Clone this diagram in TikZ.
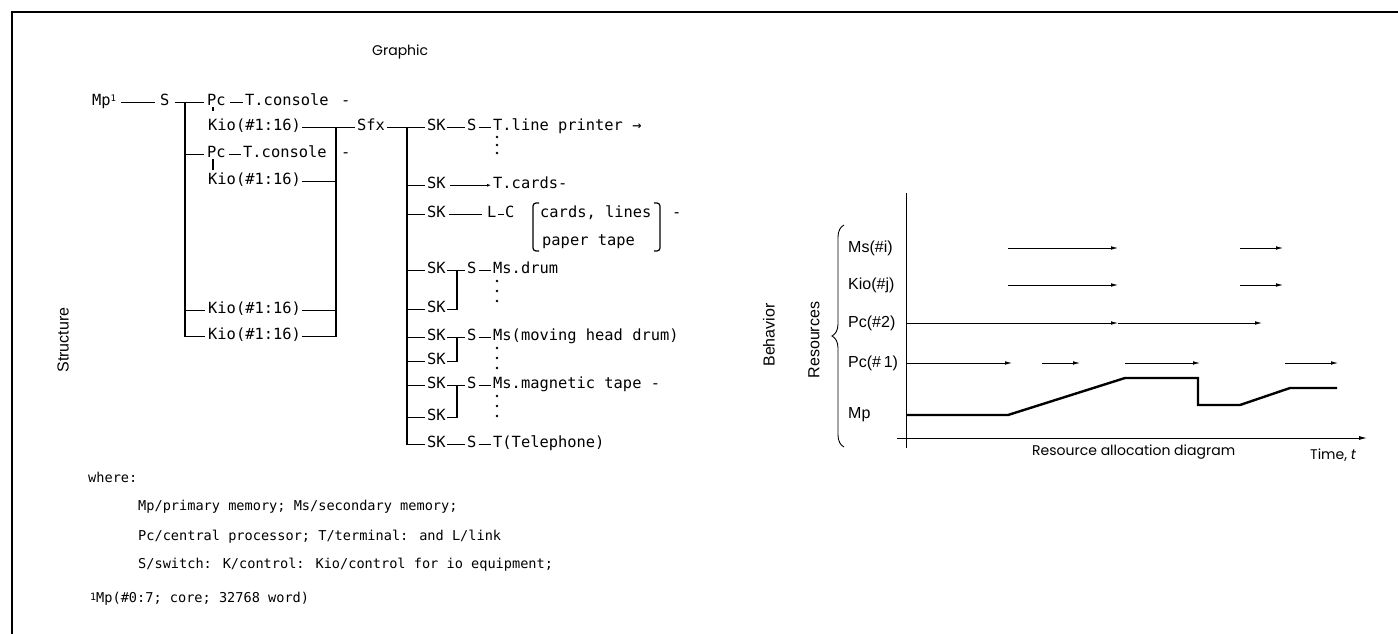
\documentclass[tikz,border=0pt]{standalone}
\usepackage{fontspec}
\setmainfont{DejaVu Sans Mono}
\newfontfamily\twf{DejaVu Sans Mono}
\newfontfamily\hvf{Liberation Sans}
\newfontfamily\geof{Poppins}
\usetikzlibrary{arrows.meta,decorations.pathreplacing}
\begin{document}
\begin{tikzpicture}[x=1pt,y=-1pt,
  tw/.style={font=\twf\fontsize{15.4}{17}\selectfont, inner sep=0pt, anchor=base west},
  twl/.style={font=\twf\fontsize{13.6}{16}\selectfont, inner sep=0pt, anchor=base west},
  conn/.style={line width=1.2pt},
  hv/.style={font=\hvf\fontsize{16}{18}\selectfont, inner sep=0pt},
  geo/.style={font=\geof\fontsize{14}{16}\selectfont, inner sep=0pt},
  arr/.style={line width=0.8pt, -{Latex[length=7pt,width=3.6pt]}},
  dotmark/.style={fill=black},
  frame/.style={line width=1.2pt}]
\useasboundingbox (0,0) rectangle (1398,634);
% frame
\draw[frame] (12,634) -- (12,12) -- (1398,12);
% titles
\node[geo, anchor=west] (graphic) at (372,52) {Graphic};
\node[hv, rotate=90] (structure) at (63,340) {Structure};
% ---------- left structure ----------
\node[tw] (mp) at (92,105) {Mp\raisebox{4pt}{\fontsize{9}{9}\selectfont 1}};
\node[tw] (s1) at (160,105) {S};
\node[tw] (pc1) at (207,105) {Pc};
\node[tw] (tc1) at (245,105) {T.console};
\node[tw] (d1) at (341,105) {-};
\node[tw] (kio1) at (208,130) {Kio(\#1:16)};
\node[tw] (sfx) at (357,130) {Sfx};
\node[tw] (pc2) at (207,157) {Pc};
\node[tw] (tc2) at (243,157) {T.console};
\node[tw] (d2) at (341,157) {-};
\node[tw] (kio2) at (208,184) {Kio(\#1:16)};
\node[tw] (kio3) at (208,313) {Kio(\#1:16)};
\node[tw] (kio4) at (208,339) {Kio(\#1:16)};
\coordinate (b1) at (185,0);
\coordinate (b2) at (336,0);
\coordinate (b3) at (407,0);
\coordinate (jx) at (457,0);
\draw[conn] ([xshift=5pt]mp.mid east) -- ([xshift=-5pt]s1.mid west);
\draw[conn] ([xshift=5pt]s1.mid east) -- ([xshift=-3pt]pc1.mid west);
\draw[conn] (b1 |- s1.mid) -- (b1 |- kio4.mid) -- ([xshift=-3pt]kio4.mid west);
\draw[conn] (b1 |- pc2.mid) -- ([xshift=-3pt]pc2.mid west);
\draw[conn] (b1 |- kio3.mid) -- ([xshift=-3pt]kio3.mid west);
\draw[conn] ([xshift=4pt]pc1.mid east) -- ([xshift=-2pt]tc1.mid west);
\draw[conn] ([xshift=3pt]pc2.mid east) -- ([xshift=-2pt]tc2.mid west);
\draw[conn] ([xshift=6pt,yshift=-2pt]pc1.south west) -- ([xshift=6pt,yshift=-6pt]pc1.south west);
\draw[conn] ([xshift=6pt,yshift=-2pt]pc2.south west) -- ([xshift=5pt,yshift=2pt]kio2.north west);
\draw[conn] ([xshift=1pt]kio1.mid east) -- ([xshift=-2pt]sfx.mid west);
\draw[conn] (b2 |- kio1.mid) -- (b2 |- kio4.mid) -- ([xshift=1pt]kio4.mid east);
\draw[conn] ([xshift=1pt]kio2.mid east) -- (b2 |- kio2.mid);
\draw[conn] ([xshift=1pt]kio3.mid east) -- (b2 |- kio3.mid);
% SK column
\node[tw] (sk1) at (427,130) {SK};
\node[tw] (sw1) at (467,130) {S};
\node[tw] (tlp) at (493,130) {T.line printer →};
\node[tw] (sk2) at (427,188) {SK};
\node[tw] (tcards) at (493,188) {T.cards-};
\node[tw] (sk3) at (427,217) {SK};
\node[tw] (ll) at (487,217) {L};
\node[tw] (cc) at (505,217) {C};
\node[tw] (cards) at (540,217) {cards, lines};
\node[tw] (d3) at (672,217) {-};
\node[tw] (paper) at (542,245) {paper tape};
\node[tw] (sk4) at (427,273) {SK};
\node[tw] (sw4) at (467,273) {S};
\node[tw] (drum) at (493,273) {Ms.drum};
\node[tw] (sk5) at (427,312) {SK};
\node[tw] (sk6) at (427,340) {SK};
\node[tw] (sw6) at (467,340) {S};
\node[tw] (mhd) at (493,340) {Ms(moving head drum)};
\node[tw] (sk7) at (427,364) {SK};
\node[tw] (sk8) at (427,388) {SK};
\node[tw] (sw8) at (467,388) {S};
\node[tw] (mtape) at (493,388) {Ms.magnetic tape -};
\node[tw] (sk9) at (427,420) {SK};
\node[tw] (sk10) at (427,447) {SK};
\node[tw] (sw10) at (467,447) {S};
\node[tw] (tel) at (493,447) {T(Telephone)};
\draw[conn] ([xshift=2pt]sfx.mid east) -- ([xshift=-2pt]sk1.mid west);
\draw[conn] (b3 |- sk1.mid) -- (b3 |- sk10.mid) -- ([xshift=-2pt]sk10.mid west);
\foreach \n in {sk2,sk3,sk4,sk5,sk6,sk7,sk8,sk9}
  \draw[conn] (b3 |- \n.mid) -- ([xshift=-2pt]\n.mid west);
\draw[conn] ([xshift=1pt]sk1.mid east) -- ([xshift=-2pt]sw1.mid west);
\draw[conn] ([xshift=2pt]sw1.mid east) -- ([xshift=-2pt]tlp.mid west);
\draw[conn, -{Latex[length=4pt,width=3pt]}] ([xshift=4pt]sk2.mid east) -- ([xshift=-2pt]tcards.mid west);
\draw[conn] ([xshift=3pt]sk3.mid east) -- ([xshift=-5pt]ll.mid west);
\draw[conn] ([xshift=1pt]ll.mid east) -- ([xshift=-1pt]cc.mid west);
\foreach \a/\b/\c/\d in {sk4/sw4/drum/sk5, sk6/sw6/mhd/sk7, sk8/sw8/mtape/sk9}{
  \draw[conn] ([xshift=1pt]\a.mid east) -- ([xshift=-2pt]\b.mid west);
  \draw[conn] ([xshift=2pt]\b.mid east) -- ([xshift=-2pt]\c.mid west);
  \draw[conn] (jx |- \a.mid) -- (jx |- \d.mid) -- ([xshift=1pt]\d.mid east);
}
\draw[conn] ([xshift=1pt]sk10.mid east) -- ([xshift=-2pt]sw10.mid west);
\draw[conn] ([xshift=2pt]sw10.mid east) -- ([xshift=-2pt]tel.mid west);
% brackets
\draw[conn, rounded corners=3pt] (539,203) -- (533,203) -- (533,251) -- (539,251);
\draw[conn, rounded corners=3pt] (654,203) -- (660,203) -- (660,251) -- (654,251);
% dots
\foreach \y in {137,145,153} \fill[dotmark] (497,\y) circle (1.3);
\foreach \y in {281,291,301} \fill[dotmark] (497,\y) circle (1.3);
\foreach \y in {348,358,368} \fill[dotmark] (497,\y) circle (1.3);
\foreach \y in {396,406,416} \fill[dotmark] (497,\y) circle (1.3);
% legend
\node[twl] (where) at (88,482) {where:};
\node[twl] (leg1) at (138,510) {Mp/primary memory; Ms/secondary memory;};
\node[twl] (leg2) at (138,540) {Pc/central processor; T/terminal: and L/link};
\node[twl] (leg3) at (138,568) {S/switch: K/control: Kio/control for io equipment;};
\node[twl] (foot) at (90,602) {\raisebox{2pt}{\fontsize{10}{10}\selectfont 1}Mp(\#0:7; core; 32768 word)};
% ---------- right chart ----------
\node[hv, rotate=90] (behav) at (769,335) {Behavior};
\node[hv, rotate=90] (resrc) at (814,340) {Resources};
\draw[line width=0.9pt, decorate, decoration={brace, amplitude=12pt}] (844,447) -- (844,225);
\node[hv, anchor=west] (lms) at (848,248) {Ms(\#i)};
\node[hv, anchor=west] (lkio) at (848,285) {Kio(\#j)};
\node[hv, anchor=west] (lpc2) at (848,323) {Pc(\#2)};
\node[hv, anchor=west] (lpc1) at (848,363) {Pc(\#\,1)};
\node[hv, anchor=west] (lmp) at (848,415) {Mp};
\draw[line width=0.9pt] (906,193) -- (906,448);
\draw[line width=0.9pt, -{Latex[length=8pt,width=4pt]}] (897,438) -- (1367,438);
\draw[arr] (1008,248) -- (1118,248);
\draw[arr] (1240,248) -- (1283,248);
\draw[arr] (1008,285) -- (1118,285);
\draw[arr] (1240,285) -- (1283,285);
\draw[arr] (906,323) -- (1118,323);
\draw[arr] (1118,323) -- (1262,323);
\draw[arr] (907,363) -- (1012,363);
\draw[arr] (1042,363) -- (1080,363);
\draw[arr] (1125,363) -- (1200,363);
\draw[arr] (1285,363) -- (1338,363);
\draw[line width=2.4pt] (907,415) -- (1008,415) -- (1125,378) -- (1198,378) -- (1198,405) -- (1240,405) -- (1290,388) -- (1337,388);
\node[geo, anchor=west] (ralloc) at (1032,452) {Resource allocation diagram};
\node[geo, anchor=west] (time) at (1310,455) {Time, \textit{t}};
\end{tikzpicture}
\end{document}
